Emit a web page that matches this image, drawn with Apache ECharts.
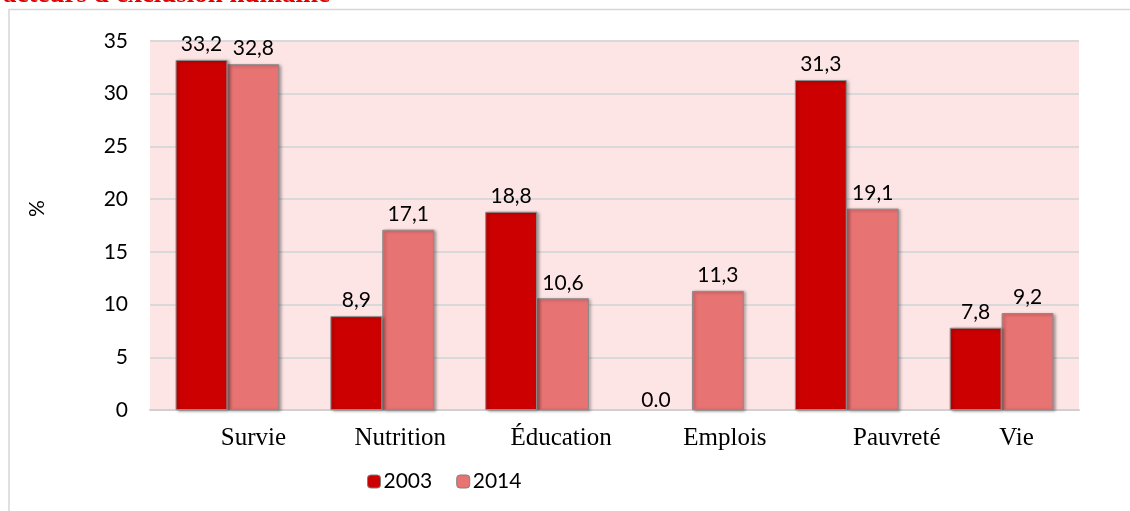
<!DOCTYPE html>
<html>
<head>
<meta charset="utf-8">
<script src="https://cdn.jsdelivr.net/npm/echarts@6/dist/echarts.min.js"></script>
<style>
html,body{margin:0;padding:0;background:#fff;}
#chart{width:1130px;height:511px;}
</style>
</head>
<body>
<div id="chart"></div>
<script>
const titleText = "acteurs d'exclusion humaine";
const categories = ['Survie', 'Nutrition', 'Éducation', 'Emplois', 'Pauvreté', 'Vie'];
const seriesNames = ['2003', '2014'];
const values2003 = [33.2, 8.9, 18.8, 0, 31.3, 7.8];
const values2014 = [32.8, 17.1, 10.6, 11.3, 19.1, 9.2];
const labels2003 = ['33,2', '8,9', '18,8', '0.0', '31,3', '7,8'];
const labels2014 = ['32,8', '17,1', '10,6', '11,3', '19,1', '9,2'];
const yTicks = [0, 5, 10, 15, 20, 25, 30, 35];
const yName = '%';

// styling: horizontal shift of each category label (px)
const labelShift = [26, 18, 24, 33, 50, 15];

const numFont = 'Lato, "Open Sans", sans-serif';
const serifFont = '"Liberation Serif", "DejaVu Serif", serif';

const chart = echarts.init(document.getElementById('chart'), null, {renderer: 'canvas'});

function barSeries(name, values, labels, color, z) {
  return {
    name: name,
    type: 'bar',
    data: values.map(v => v === 0 ? {
      value: v,
      itemStyle: {borderWidth: 0, shadowBlur: 0, shadowOffsetX: 0, shadowOffsetY: 0},
      label: {offset: [-10, 6]}
    } : v),
    barGap: '0%',
    barCategoryGap: '33%',
    itemStyle: {
      color: color,
      borderColor: '#8c8c8c',
      borderWidth: 1,
      shadowColor: 'rgba(0,0,0,0.35)',
      shadowBlur: 3,
      shadowOffsetX: 2,
      shadowOffsetY: 1
    },
    label: {
      show: true,
      position: 'top',
      distance: 5,
      color: '#000',
      fontFamily: numFont,
      fontSize: 21,
      formatter: p => labels[p.dataIndex]
    },
    z: z
  };
}

const option = {
  animation: false,
  backgroundColor: '#ffffff',
  title: {
    text: titleText,
    left: -2,
    top: -23,
    textStyle: {
      color: '#e00000',
      fontFamily: serifFont,
      fontWeight: 'bold',
      fontSize: 27
    }
  },
  graphic: [{
    type: 'rect',
    shape: {x: 9, y: 9.5, width: 1200, height: 600},
    style: {fill: 'none', stroke: '#d6d6d6', lineWidth: 1.5},
    silent: true,
    z: -10
  }],
  legend: {
    data: seriesNames,
    left: 362,
    top: 466,
    itemWidth: 13,
    itemHeight: 13,
    itemGap: 24,
    textStyle: {fontFamily: numFont, fontSize: 21, color: '#000', padding: [0, 0, 0, -2]},
    itemStyle: {borderColor: '#7f7f7f', borderWidth: 1}
  },
  grid: {
    left: 150,
    right: 51,
    top: 41,
    bottom: 101,
    show: true,
    backgroundColor: '#fde5e5',
    borderWidth: 0
  },
  xAxis: {
    type: 'category',
    data: categories.map((c, i) => ({value: c, textStyle: {padding: [0, 0, 0, labelShift[i] * 2]}})),
    axisTick: {show: false},
    axisLine: {show: true, lineStyle: {color: '#d0d0d0', width: 2}},
    axisLabel: {
      color: '#000',
      fontFamily: serifFont,
      fontSize: 25,
      margin: 16,
      interval: 0
    }
  },
  yAxis: {
    type: 'value',
    min: 0,
    max: 35,
    interval: 5,
    name: yName,
    nameLocation: 'middle',
    nameRotate: 90,
    nameGap: 102,
    nameTextStyle: {fontFamily: numFont, fontSize: 21, color: '#000', padding: [0, 0, 0, 34]},
    axisLine: {show: false},
    axisTick: {show: false},
    axisLabel: {
      color: '#000',
      fontFamily: numFont,
      fontSize: 21,
      margin: 22,
      formatter: v => yTicks.includes(v) ? String(v) : ''
    },
    splitLine: {lineStyle: {color: '#d9d9d9', width: 2}}
  },
  series: [
    barSeries(seriesNames[0], values2003, labels2003, '#cc0000', 3),
    barSeries(seriesNames[1], values2014, labels2014, '#e87373', 2)
  ]
};

chart.setOption(option);
</script>
</body>
</html>
